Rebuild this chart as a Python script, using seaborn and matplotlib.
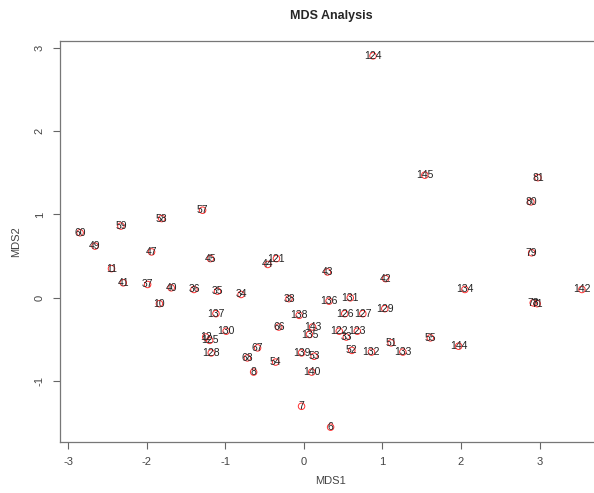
import numpy as np
import matplotlib
matplotlib.use("Agg")
import matplotlib.pyplot as plt
import pandas as pd
import seaborn as sns

# etykiety punktów i współrzędne MDS
labels = ["124", "145", "81", "80", "79", "142", "134", "78", "71",
          "60", "49", "59", "58", "57", "47", "45", "11", "41", "37",
          "40", "36", "35", "34", "10", "121", "44", "43", "42", "38",
          "136", "131", "129", "126", "127", "138", "137", "66", "143",
          "135", "122", "123", "33", "130", "12", "125", "128", "67",
          "68", "8", "54", "139", "53", "140", "52", "132", "51", "133",
          "55", "144", "7", "6"]
mds1 = [0.88, 1.54, 2.98, 2.89, 2.90, 3.54, 2.05, 2.92, 2.97,
        -2.85, -2.66, -2.33, -1.81, -1.29, -1.94, -1.19, -2.45, -2.30, -1.99,
        -1.69, -1.40, -1.10, -0.80, -1.84, -0.35, -0.46, 0.30, 1.04, -0.19,
        0.32, 0.59, 1.03, 0.52, 0.75, -0.06, -1.12, -0.32, 0.11,
        0.07, 0.45, 0.68, 0.54, -0.99, -1.25, -1.20, -1.18, -0.59,
        -0.72, -0.64, -0.36, -0.03, 0.13, 0.10, 0.61, 0.86, 1.11, 1.26,
        1.61, 1.97, -0.03, 0.34]
mds2 = [2.90, 1.47, 1.44, 1.15, 0.54, 0.10, 0.10, -0.06, -0.07,
        0.78, 0.62, 0.86, 0.95, 1.05, 0.55, 0.47, 0.35, 0.18, 0.16,
        0.12, 0.10, 0.08, 0.04, -0.07, 0.47, 0.40, 0.31, 0.23, -0.01,
        -0.04, 0.00, -0.13, -0.19, -0.19, -0.21, -0.19, -0.35, -0.35,
        -0.44, -0.40, -0.40, -0.47, -0.40, -0.47, -0.51, -0.66, -0.60,
        -0.72, -0.89, -0.77, -0.66, -0.70, -0.89, -0.63, -0.65, -0.54, -0.65,
        -0.48, -0.58, -1.30, -1.55]

df = pd.DataFrame({"MDS1": mds1, "MDS2": mds2, "lab": labels})

sns.set_style("white")
plt.rcParams["font.family"] = ["Liberation Sans", "DejaVu Sans"]
plt.rcParams["axes.unicode_minus"] = False

fig = plt.figure(figsize=(5.94, 4.93), dpi=100)
ax = fig.add_axes([60 / 594, 51 / 493, 542 / 594, 401 / 493])

sns.scatterplot(data=df, x="MDS1", y="MDS2", ax=ax, marker="o",
                facecolor="none", edgecolor="#ff3030", s=22, linewidth=0.7,
                legend=False)
for x, y, t in zip(mds1, mds2, labels):
    ax.text(x, y, t, ha="center", va="center", fontsize=7.5, color="#222222")

# zakres osi jak w R (4% marginesu)
xr = max(mds1) - min(mds1)
yr = max(mds2) - min(mds2)
ax.set_xlim(min(mds1) - 0.04 * xr, max(mds1) + 0.04 * xr)
ax.set_ylim(min(mds2) - 0.04 * yr, max(mds2) + 0.04 * yr)

ax.set_xticks([-3, -2, -1, 0, 1, 2, 3])
ax.set_yticks([-1, 0, 1, 2, 3])
ax.tick_params(axis="both", direction="out", length=5, width=0.8,
               color="#666666", labelsize=8, labelcolor="#444444", pad=6,
               bottom=True, left=True)
plt.setp(ax.get_yticklabels(), rotation=90, va="center")
for s in ax.spines.values():
    s.set_color("#777777")
    s.set_linewidth(0.9)

ax.set_xlabel("MDS1", fontsize=8, color="#444444", labelpad=6)
ax.set_ylabel("MDS2", fontsize=8, color="#444444", labelpad=10)
ax.set_title("MDS Analysis", fontsize=9, fontweight="bold", pad=16)

fig.savefig("out.png", dpi=100)
